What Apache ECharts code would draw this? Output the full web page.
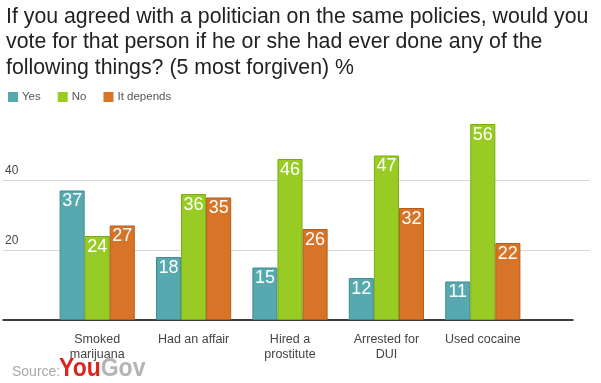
<!DOCTYPE html>
<html><head><meta charset="utf-8">
<script src="https://cdn.jsdelivr.net/npm/echarts@6/dist/echarts.min.js"></script>
<style>html,body{margin:0;padding:0;background:#fff}#c{width:601px;height:383px}</style>
</head><body><div id="c"></div>
<script>
const categories = ['Smoked\nmarijuana', 'Had an affair', 'Hired a\nprostitute', 'Arrested for\nDUI', 'Used cocaine'];
const yesValues = [37, 18, 15, 12, 11];
const noValues = [24, 36, 46, 47, 56];
const dependsValues = [27, 35, 26, 32, 22];
const seriesNames = ['Yes', 'No', 'It depends'];
const titleText = 'If you agreed with a politician on the same policies, would you\nvote for that person if he or she had ever done any of the\nfollowing things? (5 most forgiven) %';

const FONT = '"Liberation Sans", Arial, sans-serif';
const colors = ['#56a9ae', '#98cc24', '#d87428'];
const borders = ['#3f8d92', '#7aad12', '#b55c18'];
const yMax = 59;
const gTop = 320 - yMax * 3.5;
const gBottom = 383 - 320;

const chart = echarts.init(document.getElementById('c'), null, {renderer: 'canvas'});
function mk(i, data) {
  return {
    name: seriesNames[i], type: 'bar', data: data, xAxisIndex: 0, yAxisIndex: 0,
    barGap: '0%', barCategoryGap: '22%',
    itemStyle: {color: colors[i], borderColor: borders[i], borderWidth: 1},
    label: {show: true, position: 'insideTop', distance: 2, color: '#fff', fontSize: 18, fontFamily: FONT},
    emphasis: {disabled: true}
  };
}
chart.setOption({
  animation: false,
  color: colors,
  title: {text: titleText, left: 1, top: -1,
    textStyle: {fontFamily: FONT, fontSize: 21.3, fontWeight: 'normal', color: '#222', lineHeight: 25.5}},
  legend: {left: 3, top: 86, itemWidth: 10, itemHeight: 10, itemGap: 17, icon: 'rect',
    data: seriesNames,
    itemStyle: {borderWidth: 0},
    textStyle: {fontFamily: FONT, fontSize: 11.5, color: '#555', padding: [0, 0, 0, -1]}},
  grid: [
    {left: 49, right: 70, top: gTop, bottom: gBottom},
    {left: 3, right: 11, top: gTop, bottom: gBottom},
    {left: 3, right: 28, top: gTop, bottom: gBottom}
  ],
  xAxis: [
    {type: 'category', gridIndex: 0, data: categories, axisLine: {show: false}, axisTick: {show: false},
      axisLabel: {margin: 12, fontFamily: FONT, fontSize: 12.5, color: '#444', lineHeight: 15, interval: 0}},
    {type: 'value', gridIndex: 1, show: false},
    {type: 'value', gridIndex: 2, axisLine: {show: true, lineStyle: {color: '#000', width: 1.5}},
      axisTick: {show: false}, axisLabel: {show: false}, splitLine: {show: false}}
  ],
  yAxis: [
    {type: 'value', gridIndex: 0, min: 0, max: yMax, interval: 20, show: false, splitLine: {show: false}},
    {type: 'value', gridIndex: 1, min: 0, max: yMax, interval: 20,
      axisLine: {show: false}, axisTick: {show: false},
      splitLine: {show: true, showMaxLine: false, showMinLine: false, lineStyle: {color: '#d8d8d8', width: 1}},
      axisLabel: {inside: true, margin: 2, showMinLabel: false, showMaxLabel: false, verticalAlign: 'bottom', padding: [0, 0, 3, 0],
        fontFamily: FONT, fontSize: 12, color: '#444'}},
    {type: 'value', gridIndex: 2, min: 0, max: yMax, show: false, splitLine: {show: false}}
  ],
  series: [mk(0, yesValues), mk(1, noValues), mk(2, dependsValues)],
  graphic: [{
    type: 'text', x: 12, y: 372,
    style: {text: 'Source:', fontFamily: FONT, fontSize: 14, fill: '#a8a8a8', verticalAlign: 'middle'}
  }, {
    type: 'text', x: 59, y: 369, scaleY: 1.12,
    style: {
      text: '{y|You}{g|Gov}', verticalAlign: 'middle',
      rich: {
        y: {fontFamily: FONT, fontSize: 23, fontWeight: 'bold', fill: '#d8261e'},
        g: {fontFamily: FONT, fontSize: 23, fontWeight: 'bold', fill: '#b4b4b4'}
      }
    }
  }]
});
</script></body></html>
